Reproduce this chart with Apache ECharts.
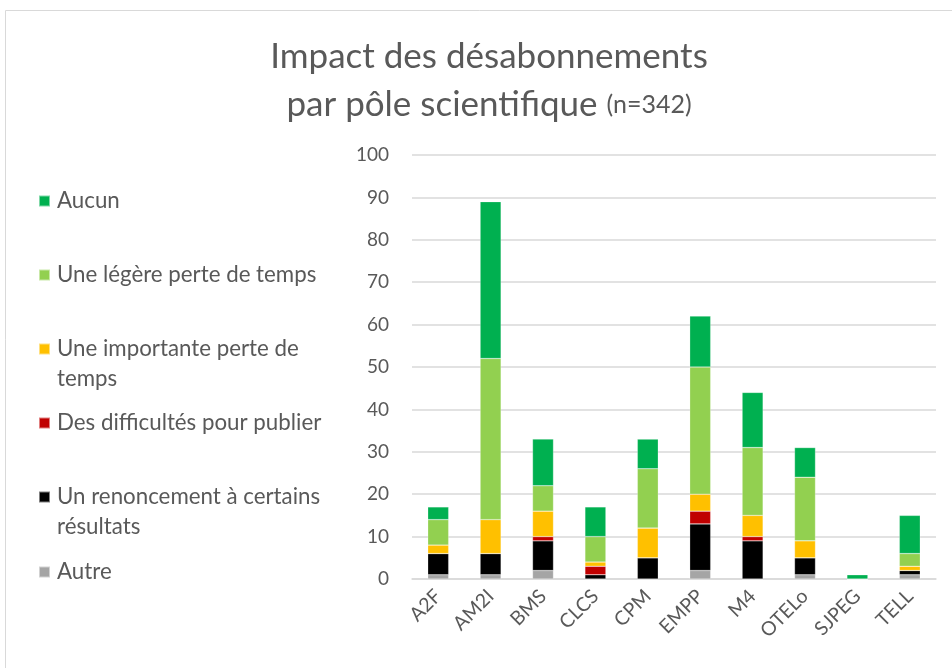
<!DOCTYPE html>
<html>
<head>
<meta charset="utf-8">
<script src="https://cdn.jsdelivr.net/npm/echarts@6/dist/echarts.min.js"></script>
<style>html,body{margin:0;padding:0;background:#fff}#c{width:952px;height:668px}</style>
</head>
<body>
<div id="c"></div>
<script>
const categories = ['A2F','AM2I','BMS','CLCS','CPM','EMPP','M4','OTELo','SJPEG','TELL'];
const autre        = [1, 1, 2, 0, 0, 2, 0, 1, 0, 1];
const renoncement  = [5, 5, 7, 1, 5, 11, 9, 4, 0, 1];
const difficultes  = [0, 0, 1, 2, 0, 3, 1, 0, 0, 0];
const importante   = [2, 8, 6, 1, 7, 4, 5, 4, 0, 1];
const legere       = [6, 38, 6, 6, 14, 30, 16, 15, 0, 3];
const aucun        = [3, 37, 11, 7, 7, 12, 13, 7, 1, 9];
const yTicks = [0, 10, 20, 30, 40, 50, 60, 70, 80, 90, 100];

const seriesDefs = [
  {name: 'Autre', data: autre, color: '#A5A5A5', label: 'Autre', lines: 1, cy: 572},
  {name: 'Un renoncement à certains résultats', data: renoncement, color: '#000000', label: 'Un renoncement à certains\nrésultats', lines: 2, cy: 497},
  {name: 'Des difficultés pour publier', data: difficultes, color: '#C00000', label: 'Des difficultés pour publier', lines: 1, cy: 423},
  {name: 'Une importante perte de temps', data: importante, color: '#FFC000', label: 'Une importante perte de\ntemps', lines: 2, cy: 349},
  {name: 'Une légère perte de temps', data: legere, color: '#92D050', label: 'Une légère perte de temps', lines: 1, cy: 275},
  {name: 'Aucun', data: aucun, color: '#00B050', label: 'Aucun', lines: 1, cy: 201}
];

const FONT = 'Lato';
const LH = 30;
const TXT = '#595959';

const legends = seriesDefs.map(s => ({
  data: [s.name],
  orient: 'vertical',
  left: 38,
  top: s.lines === 2 ? s.cy - 1.5 * LH : s.cy - LH / 2,
  padding: 0,
  itemWidth: 11,
  itemHeight: 11,
  icon: 'rect',
  selectedMode: false,
  formatter: () => s.lines === 2 ? '\u00a0\n' + s.label : s.label,
  textStyle: {
    fontFamily: FONT, fontSize: 22.3, color: TXT, lineHeight: LH,
    padding: [0, 0, 0, 2]
  }
}));

const chart = echarts.init(document.getElementById('c'));
chart.setOption({
  animation: false,
  graphic: [{
    type: 'rect', shape: {x: 5.5, y: 10.5, width: 960, height: 700},
    style: {fill: 'none', stroke: '#D9D9D9', lineWidth: 1}, silent: true, z: -10
  }],
  title: {
    text: '{a|Impact des désabonnements}\n{a|par pôle scientifique }{b|(n=342)}',
    left: 484, top: 28, textAlign: 'center',
    textStyle: {
      fontWeight: 'normal',
      rich: {
        a: {fontFamily: FONT, fontSize: 35, fontWeight: 'normal', color: TXT, lineHeight: 48},
        b: {fontFamily: FONT, fontSize: 25, fontWeight: 'normal', color: TXT, lineHeight: 48}
      }
    }
  },
  legend: legends,
  grid: {left: 412, right: 16, top: 155, bottom: 89, containLabel: false},
  xAxis: {
    type: 'category', data: categories,
    axisLine: {lineStyle: {color: '#D9D9D9', width: 1.5}},
    axisTick: {show: false},
    axisLabel: {rotate: 45, fontFamily: FONT, fontSize: 19.5, color: TXT, margin: 14, interval: 0}
  },
  yAxis: {
    type: 'value', min: yTicks[0], max: yTicks[yTicks.length - 1], interval: 10,
    axisLine: {show: false}, axisTick: {show: false},
    axisLabel: {fontFamily: FONT, fontSize: 19, color: TXT, margin: 23},
    splitLine: {lineStyle: {color: '#D9D9D9', width: 1.5}}
  },
  series: seriesDefs.map(s => ({
    name: s.name, type: 'bar', stack: 'total', data: s.data,
    barWidth: '40%',
    itemStyle: {color: s.color, borderColor: 'rgba(255,255,255,0.5)', borderWidth: 0.5}
  }))
});
</script>
</body>
</html>
